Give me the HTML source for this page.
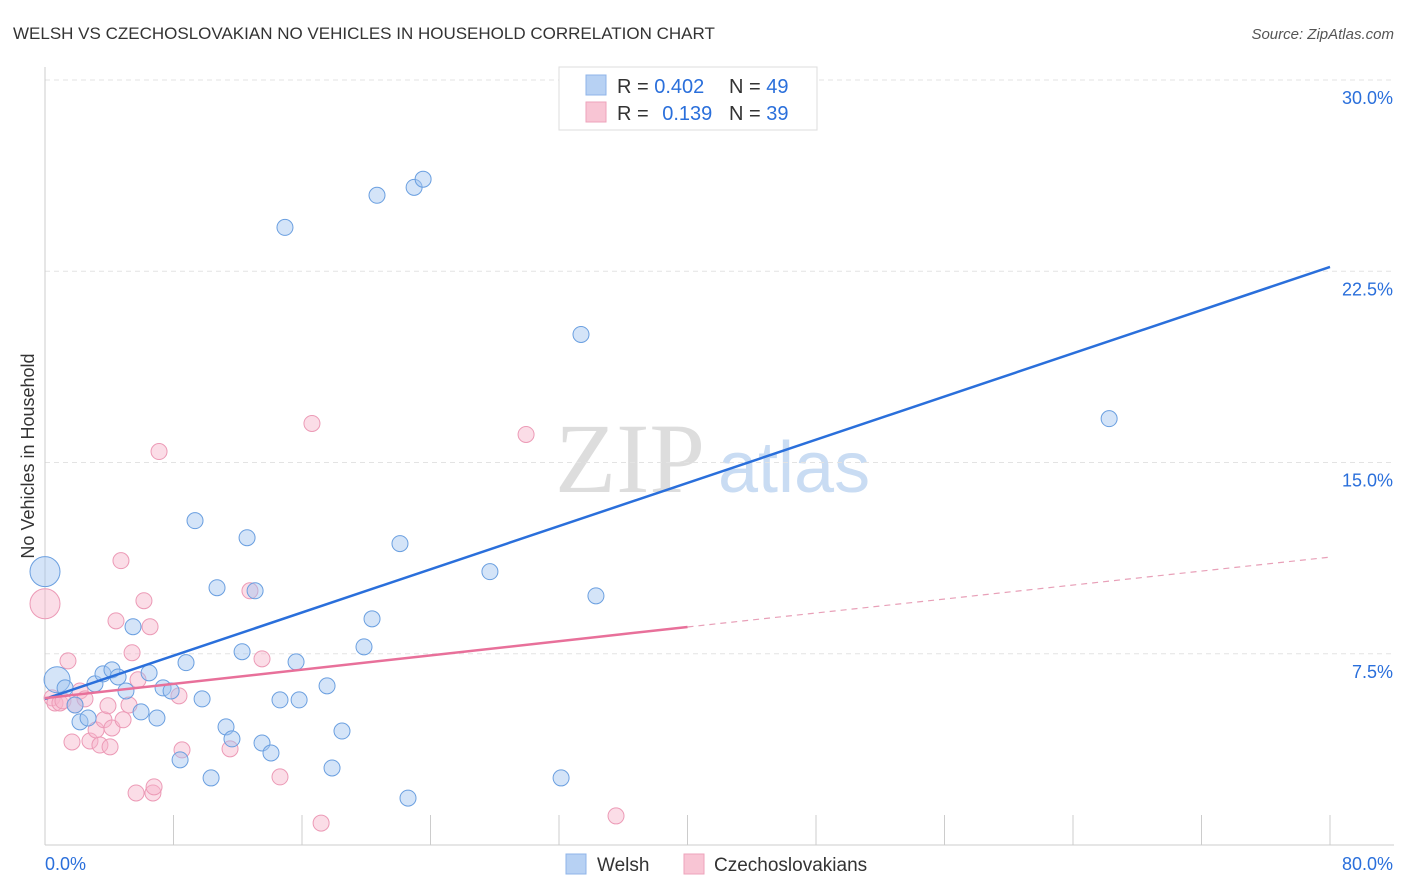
<!DOCTYPE html>
<html><head><meta charset="utf-8"><style>
body{margin:0;background:#fff;font-family:"Liberation Sans",sans-serif;}
#wrap{position:relative;width:1406px;height:892px;overflow:hidden;}
</style></head><body>
<div id="wrap">
<svg id="svg" width="1406" height="892">
<text x="13" y="39" font-size="17" fill="#333">WELSH VS CZECHOSLOVAKIAN NO VEHICLES IN HOUSEHOLD CORRELATION CHART</text>
<text x="1394" y="39" font-size="15" fill="#555" font-style="italic" text-anchor="end">Source: ZipAtlas.com</text>
<text transform="translate(34,456) rotate(-90)" font-size="18" fill="#333" text-anchor="middle">No Vehicles in Household</text>
<text x="555" y="492" font-size="100" fill="#ddd" font-family="Liberation Serif,serif">ZIP</text>
<text x="718" y="492" font-size="72" fill="#c9dcf3">atlas</text>
<g id="grid"></g><g id="axes"></g><g id="marks"></g>
<g>
<rect x="559" y="67" width="258" height="63" fill="#fff" stroke="#ddd"/>
<rect x="586" y="75" width="20" height="20" fill="#b7d1f3" stroke="#8fb4e8"/>
<rect x="586" y="102" width="20" height="20" fill="#f8c5d4" stroke="#eea3bb"/>
<text x="617" y="93" font-size="20" fill="#333">R = <tspan fill="#2a6fdb">0.402</tspan></text>
<text x="729" y="93" font-size="20" fill="#333">N = <tspan fill="#2a6fdb">49</tspan></text>
<text x="617" y="120" font-size="20" fill="#333">R = <tspan fill="#2a6fdb" dx="8">0.139</tspan></text>
<text x="729" y="120" font-size="20" fill="#333">N = <tspan fill="#2a6fdb">39</tspan></text>
</g>
<g>
<rect x="566" y="854" width="20" height="20" fill="#b7d1f3" stroke="#8fb4e8"/>
<text x="597" y="871" font-size="19" fill="#333">Welsh</text>
<rect x="684" y="854" width="20" height="20" fill="#f8c5d4" stroke="#eea3bb"/>
<text x="714" y="871" font-size="19" fill="#333">Czechoslovakians</text>
</g>
</svg>
</div>
<script>
const yTicks=[7.5,15,22.5,30];
const yTickLabels=["7.5%","15.0%","22.5%","30.0%"];
const xTicks=[0,8,16,24,32,40,48,56,64,72,80];
const welshX=[0,0.75,1.25,1.87,2.18,2.68,3.11,3.61,4.17,4.55,5.04,5.48,5.98,6.48,6.97,7.35,7.85,8.41,8.78,9.34,9.78,10.34,10.71,11.27,11.64,12.27,12.58,13.08,13.51,14.07,14.63,14.94,15.63,15.82,17.56,17.87,18.49,19.86,20.36,20.67,22.1,22.6,22.98,23.54,27.7,32.13,33.37,34.3,66.25];
const welshY=[10.72,6.48,6.16,5.49,4.83,4.98,6.32,6.71,6.87,6.59,6.04,8.56,5.22,6.75,4.98,6.16,6.04,3.34,7.15,12.72,5.73,2.63,10.09,4.63,4.16,7.58,12.05,9.97,4.0,3.61,5.69,24.22,7.18,5.69,6.24,3.02,4.47,7.77,8.87,25.48,11.82,1.84,25.79,26.11,10.72,2.63,20.02,9.77,16.72];
const czX=[0,0.44,0.62,0.93,1.12,1.43,1.68,1.87,2.18,2.49,2.8,3.18,3.42,3.67,3.92,4.05,4.17,4.42,4.73,4.86,5.23,5.42,5.67,5.79,6.16,6.54,6.72,6.79,7.1,8.34,8.53,11.52,12.76,13.51,14.63,16.62,17.19,29.95,35.55];
const czY=[9.46,5.77,5.57,5.57,5.65,7.22,4.04,5.49,6.04,5.73,4.08,4.51,3.92,4.91,5.46,3.85,4.59,8.79,11.15,4.91,5.49,7.54,2.04,6.48,9.58,8.56,2.04,2.28,15.43,5.85,3.73,3.77,9.97,7.3,2.67,16.53,0.86,16.1,1.14];
const welshTrend=[5.73,22.67];
const czTrend=[5.76,8.55,11.29];
const NS="http://www.w3.org/2000/svg";
const X=v=>45+v*(1285/80);
const Y=v=>845-v*25.5;
function mk(t,a,p){const e=document.createElementNS(NS,t);for(const k in a)e.setAttribute(k,a[k]);p.appendChild(e);return e;}
const grid=document.getElementById('grid'),axes=document.getElementById('axes'),marks=document.getElementById('marks');
yTicks.forEach((v,i)=>{
 const l=mk('line',{x1:45,x2:1394,y1:Y(v),y2:Y(v),stroke:'#e3e3e3','stroke-dasharray':'5,4'},grid);
 
 
 const t=mk('text',{x:1393,y:Y(v)+24,'font-size':18,fill:'#2a6fdb','text-anchor':'end'},axes);
 t.textContent=yTickLabels[i];
 
 
});
const xa=mk('line',{x1:45,x2:1394,y1:845,y2:845,stroke:'#ccc'},axes);


const ya=mk('line',{x1:45,x2:45,y1:67,y2:845,stroke:'#ccc'},axes);


xTicks.forEach(v=>{
 const l=mk('line',{x1:X(v),x2:X(v),y1:815,y2:845,stroke:'#ccc'},axes);
 
 
});
const xl0=mk('text',{x:45,y:870,'font-size':18,fill:'#2a6fdb'},axes);xl0.textContent='0.0%';


const xl1=mk('text',{x:1393,y:870,'font-size':18,fill:'#2a6fdb','text-anchor':'end'},axes);xl1.textContent='80.0%';


czX.forEach((v,i)=>{
 const c=mk('circle',{cx:X(v),cy:Y(czY[i]),r:i==0?15:8,fill:'rgba(246,180,202,0.45)',stroke:'#ec9ab6','stroke-width':1},marks);
 
 
});
welshX.forEach((v,i)=>{
 const c=mk('circle',{cx:X(v),cy:Y(welshY[i]),r:i==0?15:(i==1?13:8),fill:'rgba(160,196,240,0.45)',stroke:'#6a9fe0','stroke-width':1},marks);
 
 
});
const bl=mk('line',{x1:X(0),y1:Y(welshTrend[0]),x2:X(80),y2:Y(welshTrend[1]),stroke:'#2a6fdb','stroke-width':2.5},marks);


const pl=mk('line',{x1:X(0),y1:Y(czTrend[0]),x2:X(40),y2:Y(czTrend[1]),stroke:'#e8709a','stroke-width':2.5},marks);


const pd=mk('line',{x1:X(40),y1:Y(czTrend[1]),x2:X(80),y2:Y(czTrend[2]),stroke:'#e8a0b8','stroke-width':1.2,'stroke-dasharray':'6,5'},marks);


</script>
</body></html>
